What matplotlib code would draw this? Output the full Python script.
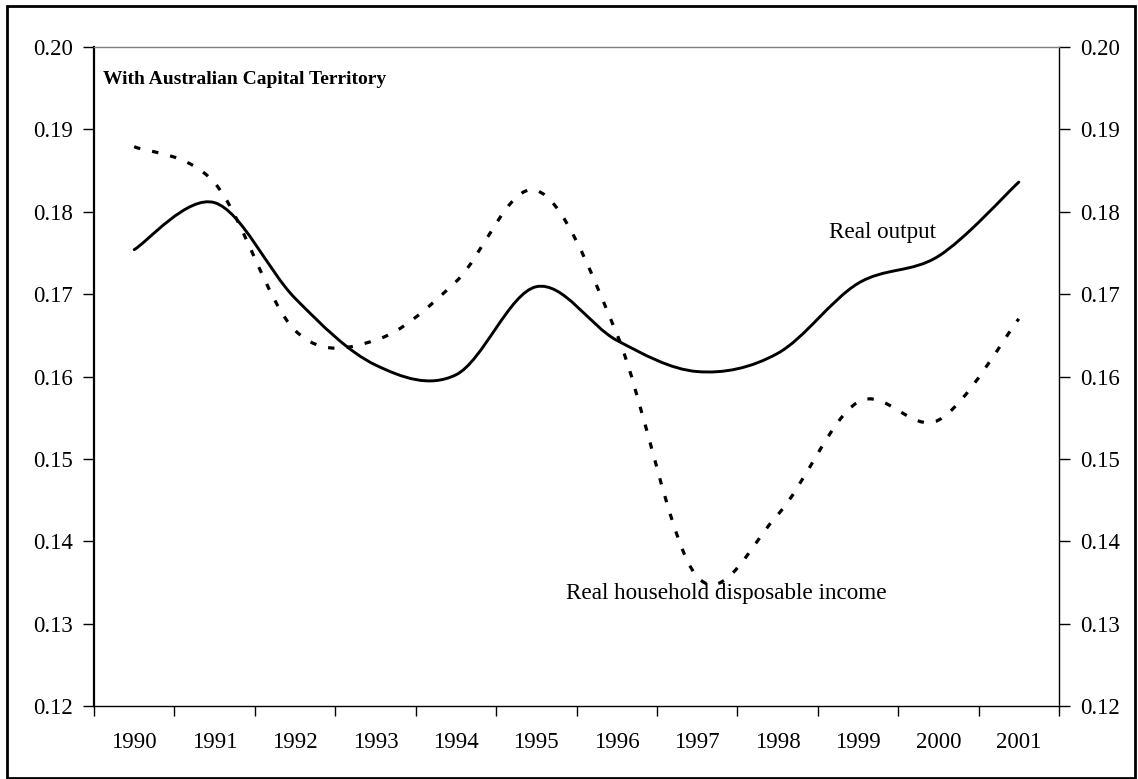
import matplotlib
matplotlib.use("Agg")
import matplotlib.pyplot as plt
from matplotlib.path import Path
from matplotlib.patches import PathPatch, Rectangle
import numpy as np

plt.rcParams['font.family'] = ['Liberation Serif', 'DejaVu Serif']

years = ["1990", "1991", "1992", "1993", "1994", "1995", "1996",
         "1997", "1998", "1999", "2000", "2001"]
real_output = [0.1754, 0.1811, 0.1695, 0.1614, 0.1602, 0.1709, 0.1644,
               0.1606, 0.1628, 0.1713, 0.1746, 0.1836]
real_hdi = [0.1879, 0.1835, 0.1656, 0.1644, 0.1715, 0.1826, 0.1652,
            0.1357, 0.1432, 0.1569, 0.1547, 0.1670]
y_ticks = [0.12, 0.13, 0.14, 0.15, 0.16, 0.17, 0.18, 0.19, 0.20]
title_text = "With Australian Capital Territory"
label_output = "Real output"
label_hdi = "Real household disposable income"


def smooth_path(xs, ys):
    """Excel-style smoothed line: cubic Bezier segments through the points."""
    pts = np.column_stack([xs, ys]).astype(float)
    n = len(pts)
    verts = [pts[0]]
    codes = [Path.MOVETO]
    for i in range(n - 1):
        p0 = pts[i - 1] if i > 0 else pts[i]
        p1 = pts[i]
        p2 = pts[i + 1]
        p3 = pts[i + 2] if i + 2 < n else pts[i + 1]
        c1 = p1 + (p2 - p0) / 6.0
        c2 = p2 - (p3 - p1) / 6.0
        verts += [c1, c2, p2]
        codes += [Path.CURVE4] * 3
    return Path(verts, codes)


fig = plt.figure(figsize=(11.38, 7.79), dpi=100)
ax = fig.add_axes([94 / 1138, 1 - 706 / 779, (1059 - 94) / 1138, (706 - 47) / 779])

x = np.arange(len(years))

ax.add_patch(PathPatch(smooth_path(x, real_output), fill=False,
                       edgecolor='black', lw=2.1, capstyle='round'))
ax.add_patch(PathPatch(smooth_path(x, real_hdi), fill=False,
                       edgecolor='black', lw=2.3,
                       linestyle=(0, (2.0, 3.8)), capstyle='butt'))

ax.set_xlim(-0.5, len(years) - 0.5)
ax.set_ylim(0.12, 0.20)

ax.set_xticks(x)
ax.set_xticklabels(years)
ax.set_xticks(np.arange(-0.5, len(years), 1.0), minor=True)
ax.tick_params(axis='x', which='major', length=0, pad=19, labelsize=16.5)
ax.tick_params(axis='x', which='minor', length=7, width=1, direction='out')

ax.set_yticks(y_ticks)
ax.set_yticklabels([f"{v:.2f}" for v in y_ticks])
ax.tick_params(axis='y', which='major', left=True, right=True,
               labelleft=True, labelright=True, direction='out',
               length=8, width=1, pad=7, labelsize=16.5)

for s in ['left', 'bottom', 'right']:
    ax.spines[s].set_color('black')
    ax.spines[s].set_linewidth(1.0)
ax.spines['left'].set_linewidth(1.6)
ax.spines['top'].set_color('#808080')
ax.spines['top'].set_linewidth(1.0)

ax.text(0.009, 0.95, title_text, transform=ax.transAxes, fontsize=14,
        fontweight='bold', ha='left', va='center')
ax.text(9.31, 0.1775, label_output, fontsize=16.7, ha='center', va='center')
ax.text(7.36, 0.1337, label_hdi, fontsize=16.7, ha='center', va='center')

# outer chart border
fig.patches.append(Rectangle((7 / 1138, 1 / 779), (1135 - 7) / 1138, (773 - 1) / 779,
                             transform=fig.transFigure, fill=False,
                             edgecolor='black', lw=2.0))

fig.savefig("out.png", dpi=100)
